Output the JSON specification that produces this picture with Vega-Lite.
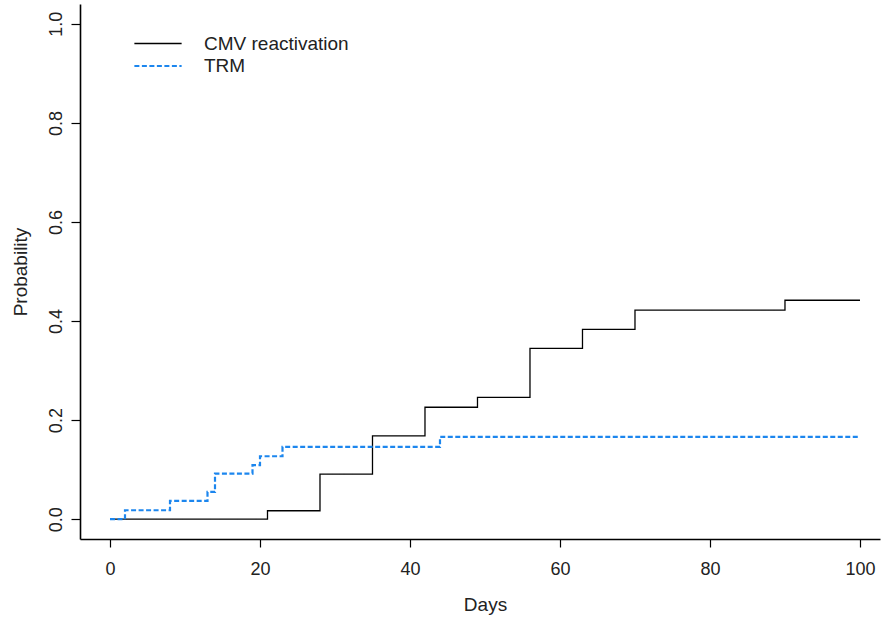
{
  "$schema": "https://vega.github.io/schema/vega-lite/v6.json",
  "width": 800,
  "height": 535,
  "autosize": {"type": "none"},
  "padding": {"left": 80, "top": 4, "right": 3, "bottom": 81},
  "background": "white",
  "config": {
    "view": {"stroke": null},
    "font": "Liberation Sans",
    "axis": {"grid": false, "domainColor": "black", "domainWidth": 1.6, "tickColor": "black", "tickWidth": 1.2, "labelColor": "#222", "titleColor": "#222", "labelFont": "Liberation Sans", "titleFont": "Liberation Sans", "titleFontWeight": "normal"}
  },
  "data": {
    "values": [
      {"series": "CMV reactivation", "day": 0, "p": 0},
      {"series": "CMV reactivation", "day": 21, "p": 0.017},
      {"series": "CMV reactivation", "day": 28, "p": 0.091},
      {"series": "CMV reactivation", "day": 35, "p": 0.168},
      {"series": "CMV reactivation", "day": 42, "p": 0.226},
      {"series": "CMV reactivation", "day": 49, "p": 0.246},
      {"series": "CMV reactivation", "day": 56, "p": 0.345},
      {"series": "CMV reactivation", "day": 63, "p": 0.383},
      {"series": "CMV reactivation", "day": 70, "p": 0.422},
      {"series": "CMV reactivation", "day": 90, "p": 0.442},
      {"series": "CMV reactivation", "day": 100, "p": 0.442},
      {"series": "TRM", "day": 0, "p": 0},
      {"series": "TRM", "day": 2, "p": 0.018},
      {"series": "TRM", "day": 8, "p": 0.037},
      {"series": "TRM", "day": 13, "p": 0.055},
      {"series": "TRM", "day": 14, "p": 0.092},
      {"series": "TRM", "day": 19, "p": 0.109},
      {"series": "TRM", "day": 20, "p": 0.127},
      {"series": "TRM", "day": 23, "p": 0.146},
      {"series": "TRM", "day": 44, "p": 0.166},
      {"series": "TRM", "day": 100, "p": 0.166}
    ]
  },
  "mark": {"type": "line", "interpolate": "step-after", "strokeCap": "butt"},
  "encoding": {
    "x": {
      "field": "day", "type": "quantitative",
      "scale": {"domain": [-4, 102.67], "nice": false, "zero": false},
      "axis": {"values": [0, 20, 40, 60, 80, 100], "title": "Days", "labelFontSize": 18, "titleFontSize": 19, "tickSize": 8, "labelPadding": 13, "labelBaseline": "top", "titleX": 405, "titleY": 65, "titleBaseline": "middle", "titleAlign": "center", "titlePadding": 0}
    },
    "y": {
      "field": "p", "type": "quantitative",
      "scale": {"domain": [-0.04, 1.04], "nice": false, "zero": false},
      "axis": {"values": [0, 0.2, 0.4, 0.6, 0.8, 1.0], "format": ".1f", "title": "Probability", "labelFontSize": 18, "titleFontSize": 19, "tickSize": 9, "labelAngle": 270, "labelAlign": "center", "labelBaseline": "bottom", "labelPadding": 6, "titleAngle": 270, "titleX": -60, "titleY": 267.5, "titleAlign": "center", "titleBaseline": "middle"}
    },
    "color": {
      "field": "series", "type": "nominal",
      "scale": {"domain": ["CMV reactivation", "TRM"], "range": ["black", "#1C86EE"]},
      "legend": {"orient": "none", "legendX": 66, "legendY": 28, "title": null, "symbolType": "M-2.25,0H2.25", "symbolSize": 441, "symbolStrokeWidth": 1.6, "labelFontSize": 19, "labelFont": "Liberation Sans", "labelColor": "#222", "labelOffset": 34, "rowPadding": 0, "padding": 0}
    },
    "strokeDash": {
      "field": "series", "type": "nominal",
      "scale": {"domain": ["CMV reactivation", "TRM"], "range": [[1, 0], [5, 2.5]]},
      "legend": null
    },
    "strokeWidth": {
      "field": "series", "type": "nominal",
      "scale": {"domain": ["CMV reactivation", "TRM"], "range": [1.3, 2.2]},
      "legend": null
    }
  }
}
